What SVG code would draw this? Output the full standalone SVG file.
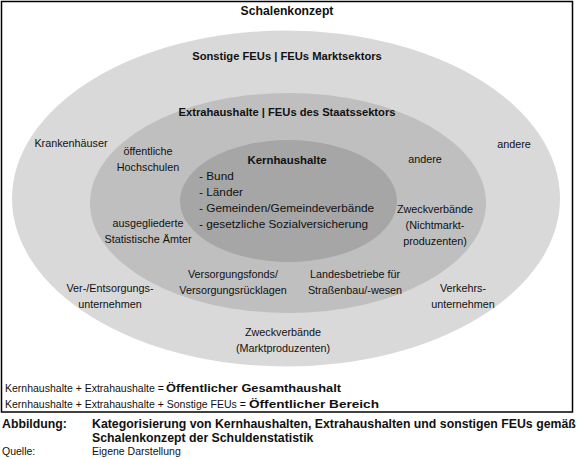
<svg xmlns="http://www.w3.org/2000/svg" width="587" height="459" viewBox="0 0 587 459">
<style>
text{font-family:"Liberation Sans",Arial,sans-serif;font-size:10.8px;fill:#111}
.b{font-weight:bold}
.h{font-weight:bold;font-size:11.2px}
.c{text-anchor:middle}
.l{font-size:11.8px}
.n{font-size:10.5px}
.f{font-weight:bold;font-size:11.6px}
.s{font-size:10.5px}
.cap{font-size:12.3px;font-weight:bold}
</style>
<rect width="587" height="459" fill="#fff"/>
<rect x="1.5" y="1.5" width="571" height="410.5" fill="none" stroke="#000" stroke-width="1.5"/>
<g id="outer">
<ellipse cx="286" cy="198.5" rx="274" ry="168" fill="#d9d9d9"/>
</g>
<g id="middle">
<ellipse cx="288" cy="203" rx="198" ry="110" fill="#bfbfbf"/>
</g>
<g id="inner">
<ellipse cx="288.5" cy="201" rx="108.5" ry="61" fill="#a6a6a6"/>
</g>
<g id="connectors"></g>
<g id="labels">
<text class="c" x="287" y="15" style="font-weight:bold;font-size:12.2px">Schalenkonzept</text>
<text class="h c" x="287" y="60">Sonstige FEUs | FEUs Marktsektors</text>
<text class="h c" x="287" y="116">Extrahaushalte | FEUs des Staatssektors</text>
<text class="c" x="287" y="164" style="font-weight:bold;font-size:11.4px">Kernhaushalte</text>
<text class="l" x="199" y="180">- Bund</text>
<text class="l" x="199" y="196">- Länder</text>
<text class="l" x="199" y="212">- Gemeinden/Gemeindeverbände</text>
<text class="l" x="199" y="228">- gesetzliche Sozialversicherung</text>
<text class="c" x="71" y="147">Krankenhäuser</text>
<text class="c" x="148" y="155">öffentliche</text>
<text class="c" x="148" y="171">Hochschulen</text>
<text class="c" x="148" y="227">ausgegliederte</text>
<text class="c" x="148" y="243">Statistische Ämter</text>
<text class="c" x="425" y="163">andere</text>
<text class="c" x="514" y="148">andere</text>
<text class="c" x="435" y="213">Zweckverbände</text>
<text class="c" x="435" y="229">(Nichtmarkt-</text>
<text class="c" x="435" y="245">produzenten)</text>
<text class="c" x="233" y="278">Versorgungsfonds/</text>
<text class="c" x="233" y="294">Versorgungsrücklagen</text>
<text class="c" x="355" y="278">Landesbetriebe für</text>
<text class="c" x="355" y="294">Straßenbau/-wesen</text>
<text class="c" x="110" y="292">Ver-/Entsorgungs-</text>
<text class="c" x="110" y="308">unternehmen</text>
<text class="c" x="463" y="292">Verkehrs-</text>
<text class="c" x="463" y="308">unternehmen</text>
<text class="c" x="283" y="336">Zweckverbände</text>
<text class="c" x="283" y="352">(Marktproduzenten)</text>
<text class="n" x="5" y="392">Kernhaushalte + Extrahaushalte =</text>
<text class="f" x="166" y="392" textLength="175" lengthAdjust="spacingAndGlyphs">Öffentlicher Gesamthaushalt</text>
<text class="n" x="5" y="408">Kernhaushalte + Extrahaushalte + Sonstige FEUs =</text>
<text class="f" x="249" y="408" textLength="130" lengthAdjust="spacingAndGlyphs">Öffentlicher Bereich</text>
<text class="cap" x="2" y="428">Abbildung:</text>
<text class="cap" x="92" y="428">Kategorisierung von Kernhaushalten, Extrahaushalten und sonstigen FEUs gemäß</text>
<text class="cap" x="92" y="442">Schalenkonzept der Schuldenstatistik</text>
<text class="s" x="2" y="455">Quelle:</text>
<text class="s" x="92" y="455">Eigene Darstellung</text>
</g>
</svg>
